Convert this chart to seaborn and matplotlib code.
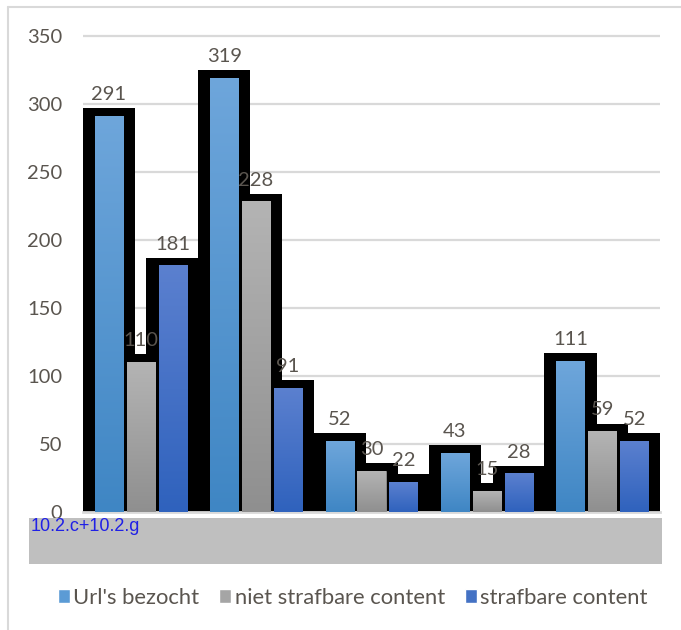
import matplotlib.pyplot as plt
import matplotlib.colors as mcolors
from matplotlib.patches import Rectangle
from matplotlib.lines import Line2D
import numpy as np
import pandas as pd
import seaborn as sns

# Data
groups = [1, 2, 3, 4, 5]
category_label = "10.2.c+10.2.g"
series = ["Url's bezocht", "niet strafbare content", "strafbare content"]
urls_bezocht = [291, 319, 52, 43, 111]
niet_strafbaar = [110, 228, 30, 15, 59]
strafbaar = [181, 91, 22, 28, 52]
yticks = [0, 50, 100, 150, 200, 250, 300, 350]

base_colors = ['#5b9bd5', '#a5a5a5', '#4472c4']
grad_top = ['#6ea6db', '#b4b4b4', '#5b80cf']
grad_bottom = ['#3f86c4', '#8f8f8f', '#2f62bd']
text_color = '#5a554f'

df = pd.DataFrame({
    'group': groups * 3,
    'serie': [s for s in series for _ in groups],
    'value': urls_bezocht + niet_strafbaar + strafbaar,
})

sns.set_style('white')
plt.rcParams['font.family'] = ['Lato', 'DejaVu Sans']

fig = plt.figure(figsize=(6.81, 6.30), dpi=100)
ax = fig.add_axes([83 / 681, 1 - 512 / 630, 577 / 681, 478.7 / 630])

sns.barplot(data=df, x='group', y='value', hue='serie', hue_order=series,
            palette=base_colors, width=0.83, gap=0.12, saturation=1,
            errorbar=None, legend=False, ax=ax)

# thick black frame behind every bar + gradient fill + value label
pad_x = 0.105
pad_y = 6
grad = np.linspace(0, 1, 256).reshape(-1, 1)
for i, cont in enumerate(ax.containers):
    cmap = mcolors.LinearSegmentedColormap.from_list('g', [grad_bottom[i], grad_top[i]])
    for bar in cont:
        x0 = bar.get_x()
        w = bar.get_width()
        h = bar.get_height()
        ax.add_patch(Rectangle((x0 - pad_x, 0), w + 2 * pad_x, h + pad_y,
                               facecolor='black', lw=0, zorder=1.5))
        bar.set_zorder(3)
        bar.set_edgecolor(grad_bottom[i])
        bar.set_linewidth(0.6)
        ax.imshow(grad, extent=[x0, x0 + w, 0, h], origin='lower', aspect='auto',
                  cmap=cmap, zorder=3.1)
        ax.text(x0 + w / 2, h + pad_y + 6, f'{int(h)}', ha='center', va='baseline',
                fontsize=14.5, color=text_color, zorder=4)

ax.set_xlim(-0.5, 4.5)
ax.set_ylim(0, 352)
ax.set_yticks(yticks)
ax.set_xticks([])
ax.set_xlabel('')
ax.set_ylabel('')
ax.tick_params(axis='y', length=0, pad=15, labelsize=14.5, labelcolor=text_color)
ax.yaxis.grid(True, color='#d9d9d9', lw=1.6)
ax.set_axisbelow(True)
for s in ['top', 'left', 'right']:
    ax.spines[s].set_visible(False)
ax.spines['bottom'].set_color('#d9d9d9')
ax.spines['bottom'].set_linewidth(2)

# gray category band under the axis
band = fig.add_axes([29 / 681, 1 - 564 / 630, 633 / 681, 46 / 630], zorder=5)
band.set_facecolor('#bfbfbf')
band.set_xticks([])
band.set_yticks([])
for s in band.spines.values():
    s.set_visible(False)
band.text(0.002, 0.99, category_label, ha='left', va='top', fontsize=13,
          family='Liberation Sans', color='#2020e6', transform=band.transAxes)

# legend
handles = [Rectangle((0, 0), 1, 1, facecolor=c) for c in base_colors]
fig.legend(handles, series, loc='center', bbox_to_anchor=(0.518, 0.051), ncol=3,
           frameon=False, fontsize=15.8, handlelength=0.55, handleheight=0.55,
           handletextpad=0.15, columnspacing=0.9, labelcolor=text_color)

# outer frame (left and top only visible)
fig.add_artist(Line2D([8 / 681, 8 / 681], [0, 1 - 7 / 630], transform=fig.transFigure,
                      color='#d9d9d9', lw=1.5))
fig.add_artist(Line2D([8 / 681, 1], [1 - 7 / 630, 1 - 7 / 630], transform=fig.transFigure,
                      color='#d9d9d9', lw=1.5))

fig.savefig('out.png', dpi=100)
